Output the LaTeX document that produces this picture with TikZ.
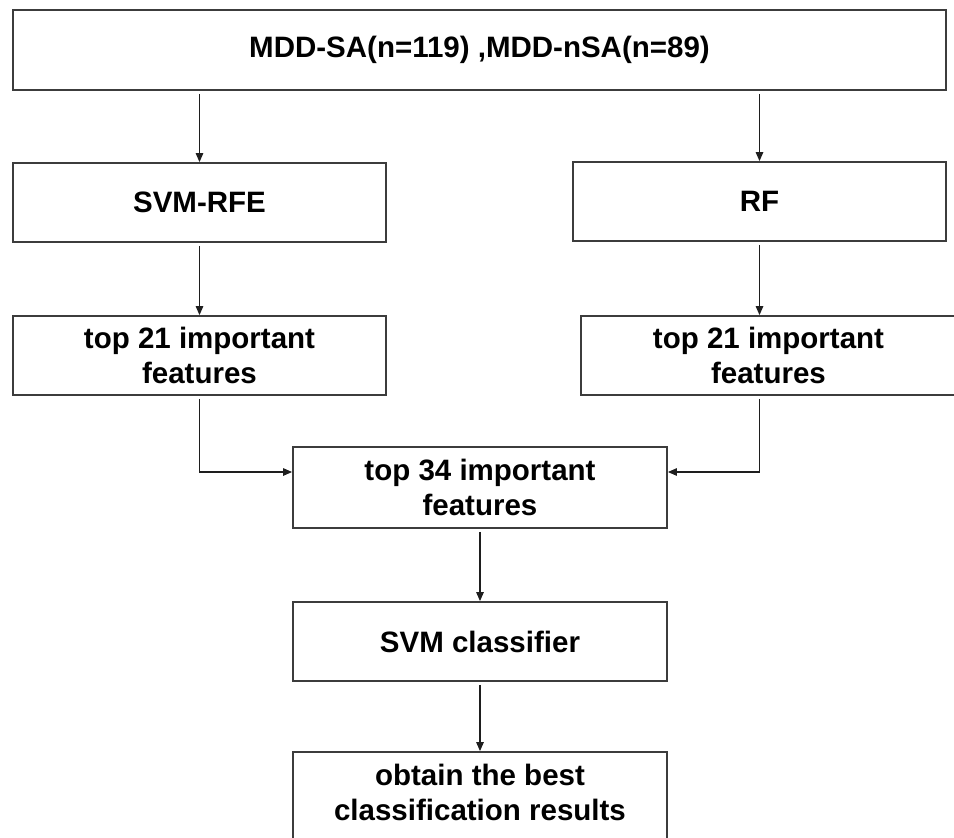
\documentclass[tikz,border=0pt]{standalone}
\usepackage{fontspec}
\setmainfont{Liberation Sans}
\usetikzlibrary{arrows.meta}
\definecolor{linegray}{HTML}{3C3C3C}
\definecolor{arrowgray}{HTML}{1E1E1E}
\begin{document}
\begin{tikzpicture}[x=1pt,y=-1pt,
  boxbase/.style={draw=linegray, line width=1.8pt, fill=white, inner sep=0pt,
    font=\fontsize{29.5}{35}\selectfont\bfseries},
  box/.style={boxbase, align=center},
  arr/.style={draw=arrowgray, line width=1.2pt, shorten <=3pt, -{Triangle[length=9pt,width=7.5pt]}}]
\useasboundingbox (0,0) rectangle (954,838);
\clip (0,0) rectangle (954,838);
\fill[white] (0,0) rectangle (954,838);
\node[box, minimum width=933pt, minimum height=80pt] (top) at (479.5,50) {MDD-SA(n=119) ,MDD-nSA(n=89)};
\node[box, minimum width=373pt, minimum height=79pt] (svmrfe) at (199.5,202.5) {SVM-RFE};
\node[box, minimum width=373pt, minimum height=79pt] (rf) at (759.5,201.5) {RF};
\node[box, minimum width=373pt, minimum height=79pt] (l21) at (199.5,355.5) {top 21 important\\features};
\node[box, minimum width=375pt, minimum height=79pt] (r21) at (768.5,355.5) {top 21 important\\features};
\node[box, minimum width=374pt, minimum height=81pt] (t34) at (480,487.5) {top 34 important\\features};
\node[box, minimum width=374pt, minimum height=79pt] (svm) at (480,641.5) {SVM classifier};
\node[boxbase, minimum width=374pt, minimum height=100pt] (obtain) at (480,802)
  {\begin{tabular}{@{}c@{}}obtain the best\\classification results\\[12pt]\end{tabular}};
\draw[arr] (top.south -| svmrfe.north) -- (svmrfe.north);
\draw[arr] (top.south -| rf.north) -- (rf.north);
\draw[arr] (svmrfe.south) -- (l21.north);
\draw[arr] (rf.south) -- (rf.south |- r21.north);
\draw[arr] (l21.south) |- ([yshift=15.5pt]t34.west);
\draw[arr] (rf.south |- r21.south) |- ([yshift=15.5pt]t34.east);
\draw[arr] (t34) -- (svm);
\draw[arr] (svm) -- (obtain);
\end{tikzpicture}
\end{document}
